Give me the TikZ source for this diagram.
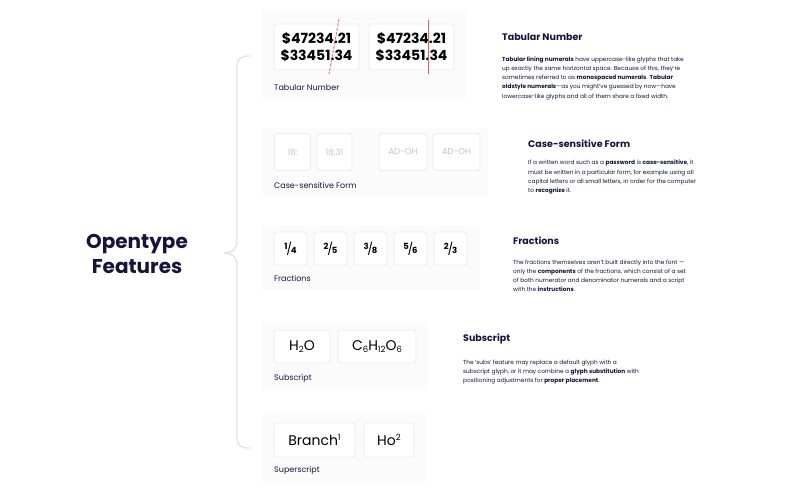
\documentclass[tikz,border=0pt]{standalone}
\usepackage{fontspec}
\setmainfont{Poppins}
\definecolor{navy}{HTML}{14143C}
\definecolor{panelc}{HTML}{FBFBFC}
\definecolor{boxline}{HTML}{ECECEE}
\definecolor{redl}{HTML}{F25C5C}
\definecolor{bracec}{HTML}{E3E3E5}
\definecolor{faint}{HTML}{C4C4C8}
\newcommand\myfrac[2]{\raisebox{3.6pt}{\fontsize{8.5}{8.5}\selectfont #1}\kern-1.2pt{\fontsize{12}{12}\selectfont\mdseries /}\kern-1.2pt\raisebox{-0.8pt}{\fontsize{8.5}{8.5}\selectfont #2}}
\newcommand\mysub[1]{\raisebox{-1.5pt}{\fontsize{8.5}{8.5}\selectfont #1}}
\newcommand\mysup[1]{\raisebox{5pt}{\fontsize{8.5}{8.5}\selectfont #1}}
\begin{document}
\begin{tikzpicture}[x=1pt,y=-1pt,
 panel/.style={fill=panelc, draw=none, rounded corners=2pt},
 sbox/.style={fill=white, draw=boxline, line width=0.8pt, rounded corners=3pt, inner sep=0pt, align=center},
 lbl/.style={anchor=west, text=navy, font=\fontsize{8}{8}\selectfont, inner sep=0pt},
 dtitle/.style={anchor=west, text=navy, font=\fontsize{9.5}{10}\selectfont\bfseries, inner sep=0pt},
 dbody/.style={anchor=north west, text=navy, align=left, font=\fontsize{5.8}{9.2}\selectfont, inner sep=0pt},
 numtxt/.style={font=\fontsize{14}{17}\selectfont\bfseries, text=black},
 casetxt/.style={font=\fontsize{8.5}{8.5}\selectfont, text=faint},
 chemtxt/.style={font=\fontsize{14}{14}\selectfont, text=black},
 fractxt/.style={font=\bfseries, text=black},
]
\useasboundingbox[fill=white] (0,0) rectangle (800,496);

% brace
\draw[bracec, line width=1.3pt, line cap=round]
 (250,56) .. controls (241,56) and (237,58) .. (237,67) -- (237,241)
 .. controls (237,249) and (232,253) .. (224,253)
 .. controls (232,253) and (237,257) .. (237,265) -- (237,438)
 .. controls (237,446) and (241,448) .. (250,448);

\node[align=center, font=\fontsize{20}{25}\selectfont\bfseries, text=navy, inner sep=0pt] (title) at (137,254) {Opentype\\Features};

% panel 1
\fill[panelc] (262,10) rectangle (467,99);
\node[sbox, minimum width=85, minimum height=46, numtxt] (t1) at (316.5,47) {\$47234.21\\\$33451.34};
\node[sbox, minimum width=85, minimum height=46, numtxt] (t2) at (411.5,47) {\$47234.21\\\$33451.34};
\coordinate (r1a) at (339,19); \coordinate (r1b) at (329,74);
\coordinate (r2a) at (428,20); \coordinate (r2b) at (428,74);
\draw[redl, line width=0.8pt, dashed, dash pattern=on 3pt off 1.5pt] (r1a) -- (r1b);
\draw[redl, line width=0.9pt] (r2a) -- (r2b);
\node[lbl] (l1) at (274,88) {Tabular Number};

% panel 2
\fill[panelc] (262,128) rectangle (488,196);
\node[sbox, minimum width=36, minimum height=37, casetxt] (c1) at (292.5,152) {18:};
\node[sbox, minimum width=35, minimum height=37, casetxt] (c2) at (334.5,152) {18:31};
\node[sbox, minimum width=48, minimum height=37, casetxt] (c3) at (403,152) {AD-OH};
\node[sbox, minimum width=47, minimum height=37, casetxt] (c4) at (456.5,152) {AD-OH};
\node[lbl] (l2) at (274,185) {Case-sensitive Form};

% panel 3
\fill[panelc] (262,226) rectangle (480,290);
\node[sbox, minimum width=33, minimum height=33, fractxt] (f1) at (290.5,248.5) {\myfrac{1}{4}};
\node[sbox, minimum width=33, minimum height=33, fractxt] (f2) at (330.5,248.5) {\myfrac{2}{5}};
\node[sbox, minimum width=33, minimum height=33, fractxt] (f3) at (370.5,248.5) {\myfrac{3}{8}};
\node[sbox, minimum width=33, minimum height=33, fractxt] (f4) at (410.5,248.5) {\myfrac{5}{6}};
\node[sbox, minimum width=33, minimum height=33, fractxt] (f5) at (450.5,248.5) {\myfrac{2}{3}};
\node[lbl] (l3) at (274,278) {Fractions};

% panel 4
\fill[panelc] (262,322) rectangle (428,390);
\node[sbox, minimum width=56, minimum height=33, chemtxt] (s1) at (302,346.5) {H\mysub{2}O};
\node[sbox, minimum width=78, minimum height=33, chemtxt] (s2) at (377,346.5) {C\mysub{6}H\mysub{12}O\mysub{6}};
\node[lbl] (l4) at (274,378) {Subscript};

% panel 5
\fill[panelc] (262,415) rectangle (427,483);
\node[sbox, minimum width=81, minimum height=34, chemtxt] (p1) at (314.5,440) {Branch\mysup{1}};
\node[sbox, minimum width=50, minimum height=34, chemtxt] (p2) at (389,440) {Ho\mysup{2}};
\node[lbl] (l5) at (274,470) {Superscript};

% descriptions
\node[dtitle] (d1t) at (502,37) {Tabular Number};
\node[dbody] (d1b) at (502,56.5) {\textbf{Tabular lining numerals} have uppercase-like glyphs that take\\up exactly the same horizontal space. Because of this, they're\\sometimes referred to as \textbf{monospaced numerals}. \textbf{Tabular}\\\textbf{oldstyle numerals}---as you might've guessed by now---have\\lowercase-like glyphs and all of them share a fixed width.};

\node[dtitle] (d2t) at (528,144) {Case-sensitive Form};
\node[dbody] (d2b) at (528,160) {If a written word such as a \textbf{password} is \textbf{case-sensitive}, it\\must be written in a particular form, for example using all\\capital letters or all small letters, in order for the computer\\to \textbf{recognize} it.};

\node[dtitle] (d3t) at (513,241) {Fractions};
\node[dbody] (d3b) at (513,259.5) {The fractions themselves aren't built directly into the font ---\\only the \textbf{components} of the fractions, which consist of a set\\of both numerator and denominator numerals and a script\\with the \textbf{instructions}.};

\node[dtitle] (d4t) at (463,339) {Subscript};
\node[dbody] (d4b) at (463,359.5) {The `subs' feature may replace a default glyph with a\\subscript glyph, or it may combine a \textbf{glyph substitution} with\\positioning adjustments for \textbf{proper placement}.};
\end{tikzpicture}
\end{document}
